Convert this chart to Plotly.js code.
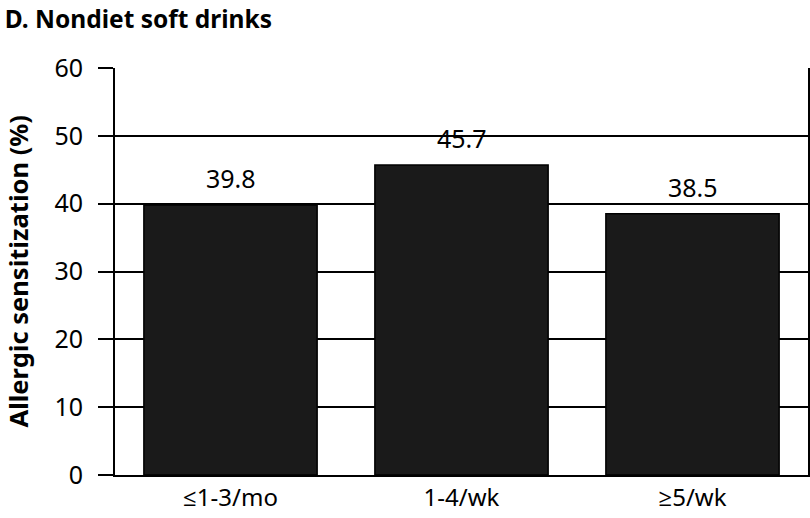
<!DOCTYPE html>
<html>
<head>
<meta charset="utf-8">
<script src="https://cdn.plot.ly/plotly-3.0.1.min.js"></script>
<style>html,body{margin:0;padding:0;background:#fff;}#chart{width:810px;height:518px;}</style>
</head>
<body>
<div id="chart"></div>
<script>
const categories = ["≤1-3/mo", "1-4/wk", "≥5/wk"];
const values = [39.8, 45.7, 38.5];
const valueLabels = ["39.8", "45.7", "38.5"];
const yTicks = [0, 10, 20, 30, 40, 50, 60];

const FONT = "Noto Sans, Open Sans, sans-serif";

const trace = {
  type: "bar",
  x: categories,
  y: values,
  marker: {color: "#1a1a1a", line: {color: "#000", width: 1.5}},
  hoverinfo: "none"
};

const labelAnnotations = categories.map((c, i) => ({
  x: c, y: values[i], xref: "x", yref: "y",
  text: valueLabels[i],
  showarrow: false,
  yanchor: "bottom",
  yshift: 8,
  font: {family: FONT, size: 25, color: "#000"}
}));

const yTitle = {
  xref: "paper", yref: "paper",
  x: -0.14, y: 0.5,
  xanchor: "center", yanchor: "middle",
  textangle: -90,
  showarrow: false,
  text: "<b>Allergic sensitization (%)</b>",
  font: {family: FONT, size: 25.5, color: "#000"}
};

const layout = {
  width: 810,
  height: 518,
  margin: {l: 115, r: 2, t: 68, b: 43},
  paper_bgcolor: "#fff",
  plot_bgcolor: "#fff",
  showlegend: false,
  bargap: 0.25,
  font: {family: FONT, color: "#000"},
  title: {
    text: "<b>D. Nondiet soft drinks</b>",
    font: {family: FONT, size: 24.5, color: "#000"},
    x: 0.006, xanchor: "left", xref: "container",
    y: 0.962, yanchor: "middle", yref: "container"
  },
  xaxis: {
    type: "category",
    showline: true, linecolor: "#000", linewidth: 2,
    mirror: false,
    ticks: "",
    tickfont: {family: FONT, size: 24, color: "#000"},
    showgrid: false,
    zeroline: false
  },
  yaxis: {
    range: [0, 60],
    tickvals: yTicks,
    ticktext: yTicks.map(String),
    showline: true, linecolor: "#000", linewidth: 2,
    mirror: true,
    ticks: "outside", ticklen: 15, tickwidth: 2, tickcolor: "#000",
    ticklabelstandoff: 10,
    tickfont: {family: FONT, size: 25, color: "#000"},
    showgrid: true, gridcolor: "#000", gridwidth: 2,
    zeroline: false
  },
  annotations: labelAnnotations.concat([yTitle])
};

Plotly.newPlot("chart", [trace], layout, {displayModeBar: false, staticPlot: true});
</script>
</body>
</html>
